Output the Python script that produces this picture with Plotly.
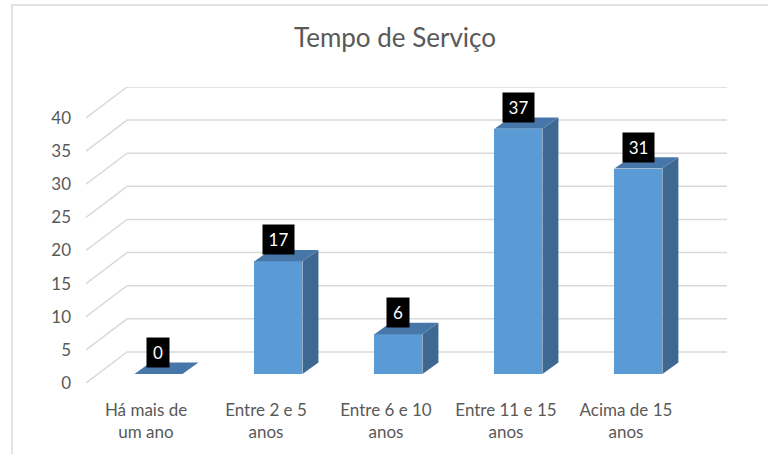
import plotly.graph_objects as go

# ---- data ----
categories = ["Há mais de<br>um ano", "Entre 2 e 5<br>anos", "Entre 6 e 10<br>anos",
              "Entre 11 e 15<br>anos", "Acima de 15<br>anos"]
values = [0, 17, 6, 37, 31]
y_ticks = [0, 5, 10, 15, 20, 25, 30, 35, 40]
title_text = "Tempo de Serviço"

# ---- styling / 3D geometry (in axis units) ----
W, H = 768, 454
ml, mr, mt, mb = 86, 41, 87, 71
wall_dx, wall_dy = 0.342, 4.68      # depth of back wall
bar_fx, bar_fy = 0.104, 1.36        # bar front face shift into depth
bar_w = 0.4
side_dx, side_dy = 0.133, 1.73      # bar depth
front_col = "#5B9BD5"
side_col = "#3D6891"
top_col = "#4677A8"
grid_col = "#D9D9D9"
text_col = "#595959"
font_family = "Lato, 'Open Sans', sans-serif"

n = len(categories)
x_min = -0.5
x_max = n - 0.5 + wall_dx
y_max = max(y_ticks) + wall_dy

fig = go.Figure()

xs = [i + bar_fx for i in range(n)]
fig.add_trace(go.Bar(
    x=xs, y=values, base=[bar_fy] * n, width=bar_w,
    marker=dict(color=front_col, line=dict(width=0)),
    hovertemplate="%{text}<extra></extra>", text=[str(v) for v in values],
    textposition="none",
))

shapes = []
# back wall gridlines and diagonal side lines
for v in y_ticks:
    shapes.append(dict(type="line", xref="x", yref="y", layer="below",
                       x0=x_min + wall_dx, x1=x_max, y0=v + wall_dy, y1=v + wall_dy,
                       line=dict(color=grid_col, width=1.5)))
    shapes.append(dict(type="line", xref="x", yref="y", layer="below",
                       x0=x_min, x1=x_min + wall_dx, y0=v, y1=v + wall_dy,
                       line=dict(color=grid_col, width=1.5)))

# 3D side and top faces of bars
for x, v in zip(xs, values):
    xl, xr = x - bar_w / 2, x + bar_w / 2
    yb, yt = bar_fy, bar_fy + v
    if v > 0:
        shapes.append(dict(type="path", xref="x", yref="y", layer="above",
                           path=f"M {xr},{yb} L {xr + side_dx},{yb + side_dy} "
                                f"L {xr + side_dx},{yt + side_dy} L {xr},{yt} Z",
                           fillcolor=side_col, line=dict(width=0)))
    shapes.append(dict(type="path", xref="x", yref="y", layer="above",
                       path=f"M {xl},{yt} L {xr},{yt} L {xr + side_dx},{yt + side_dy} "
                            f"L {xl + side_dx},{yt + side_dy} Z",
                       fillcolor=top_col, line=dict(width=0)))

# outer chart border
plot_w = W - ml - mr
plot_h = H - mt - mb
def px_to_paper_x(px):
    return (px - ml) / plot_w
def px_to_paper_y(py):
    return (H - mb - py) / plot_h
shapes.append(dict(type="rect", xref="paper", yref="paper", layer="below",
                   x0=px_to_paper_x(12), x1=px_to_paper_x(790),
                   y0=px_to_paper_y(470), y1=px_to_paper_y(5),
                   line=dict(color=grid_col, width=1.5), fillcolor="rgba(0,0,0,0)"))

annotations = []
for x, v in zip(xs, values):
    s = str(v)
    annotations.append(dict(
        x=x, y=bar_fy + v, xref="x", yref="y", text=s, showarrow=False,
        yanchor="bottom", xanchor="center", yshift=6,
        font=dict(color="white", size=17, family=font_family),
        bgcolor="black", borderpad=4, width=14 if len(s) == 1 else 23,
    ))

fig.update_layout(
    width=W, height=H,
    margin=dict(l=ml, r=mr, t=mt, b=mb, autoexpand=False),
    paper_bgcolor="white", plot_bgcolor="white",
    title=dict(text=title_text, x=395 / W, xanchor="center", xref="container",
               y=1 - 38 / H, yanchor="middle", yref="container",
               font=dict(size=26, color=text_col, family=font_family)),
    xaxis=dict(range=[x_min, x_max], tickvals=list(range(n)), ticktext=categories,
               showgrid=False, zeroline=False, showline=False, ticks="",
               ticklabelstandoff=15,
               tickfont=dict(size=17, color=text_col, family=font_family),
               fixedrange=True),
    yaxis=dict(range=[0, y_max], tickvals=y_ticks, showgrid=False, zeroline=False,
               showline=False, ticks="", ticklabelstandoff=14,
               tickfont=dict(size=17, color=text_col, family=font_family),
               fixedrange=True),
    shapes=shapes, annotations=annotations,
    showlegend=False, bargap=0,
)

fig.write_html("out.html",
               config={"displayModeBar": False},
               post_script="document.body.style.margin='0';"
                           "document.body.style.overflow='hidden';")
